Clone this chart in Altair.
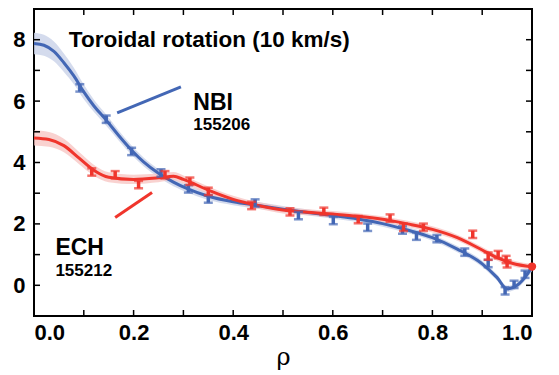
import altair as alt
import pandas as pd

# Measured points (NBI, shot 155206)
nbi_rho = [0.092, 0.145, 0.196, 0.255, 0.31, 0.35, 0.444, 0.531, 0.601, 0.67, 0.74, 0.768, 0.809, 0.865, 0.912, 0.946, 0.964, 0.986]
nbi_v   = [6.43, 5.41, 4.36, 3.66, 3.14, 2.81, 2.68, 2.27, 2.11, 1.89, 1.80, 1.60, 1.52, 1.08, 0.71, -0.18, 0.03, 0.36]

# Measured points (ECH, shot 155212)
ech_rho = [0.116, 0.163, 0.21, 0.263, 0.313, 0.35, 0.437, 0.514, 0.582, 0.651, 0.715, 0.742, 0.782, 0.881, 0.912, 0.932, 0.948, 0.95]
ech_v   = [3.69, 3.60, 3.28, 3.60, 3.39, 3.06, 2.60, 2.39, 2.41, 2.14, 2.19, 1.89, 1.89, 1.66, 0.95, 1.00, 0.84, 0.70]

# Fitted profiles
nbi_fit_rho = [0.0, 0.02, 0.04, 0.06, 0.08, 0.10, 0.12, 0.145, 0.17, 0.196, 0.22, 0.25, 0.28, 0.31, 0.35, 0.40, 0.45, 0.50, 0.55, 0.60, 0.65, 0.70, 0.75, 0.80, 0.85, 0.90, 0.93, 0.95, 0.97, 0.99, 1.0]
nbi_fit_v   = [7.88, 7.82, 7.62, 7.25, 6.82, 6.3, 5.85, 5.38, 4.88, 4.4, 4.02, 3.65, 3.36, 3.13, 2.9, 2.72, 2.6, 2.48, 2.37, 2.27, 2.16, 2.01, 1.8, 1.55, 1.18, 0.7, 0.25, -0.12, 0.0, 0.35, 0.6]
nbi_err     = [0.35, 0.34, 0.32, 0.3, 0.27, 0.24, 0.2, 0.18, 0.16, 0.15, 0.14, 0.13, 0.13, 0.12, 0.12, 0.11, 0.11, 0.1, 0.1, 0.1, 0.1, 0.1, 0.1, 0.1, 0.1, 0.1, 0.1, 0.1, 0.1, 0.12, 0.14]

ech_fit_rho = [0.0, 0.03, 0.06, 0.09, 0.12, 0.15, 0.2, 0.25, 0.28, 0.3, 0.35, 0.40, 0.45, 0.50, 0.55, 0.60, 0.65, 0.70, 0.75, 0.80, 0.85, 0.90, 0.93, 0.96, 1.0]
ech_fit_v   = [4.8, 4.75, 4.55, 4.15, 3.75, 3.52, 3.45, 3.5, 3.55, 3.45, 3.1, 2.8, 2.6, 2.45, 2.38, 2.32, 2.25, 2.15, 2.0, 1.82, 1.55, 1.15, 0.9, 0.72, 0.6]
ech_err     = [0.25, 0.24, 0.22, 0.2, 0.18, 0.16, 0.15, 0.14, 0.14, 0.13, 0.12, 0.12, 0.11, 0.11, 0.1, 0.1, 0.1, 0.1, 0.1, 0.1, 0.1, 0.1, 0.1, 0.1, 0.1]

# Edge point
edge_rho = [1.0]
edge_v = [0.61]

# Annotation leader lines (data coordinates)
lead_rho  = [0.167, 0.295, 0.163, 0.237]
lead_v    = [5.62, 6.46, 2.21, 3.02]
lead_grp  = ["NBI", "NBI", "ECH", "ECH"]

# Annotation texts
text_rho = [0.07, 0.32, 0.32, 0.043, 0.043]
text_v   = [7.99, 5.95, 5.22, 1.2, 0.45]
text_t   = ["Toroidal rotation (10 km/s)", "NBI", "155206", "ECH", "155212"]
text_s   = [22.5, 23, 17, 23, 17]

x_label_vals = [0.0, 0.2, 0.4, 0.6, 0.8, 1.0]
y_label_vals = [0, 2, 4, 6, 8]
x_tick_vals = [0.0, 0.1, 0.2, 0.3, 0.4, 0.5, 0.6, 0.7, 0.8, 0.9, 1.0]
y_tick_vals = [0, 1, 2, 3, 4, 5, 6, 7, 8]

BLUE = "#4367b5"
RED = "#f0352c"
BLUE_BAND = "#cdd5ea"
RED_BAND = "#f7c3c0"

W, H = 498, 307
FONT = "Liberation Sans"

xs = alt.Scale(domain=[0, 1], nice=False, zero=False)
ys = alt.Scale(domain=[-1, 9], nice=False, zero=False)

AX = alt.Axis(values=x_label_vals, format=".1f", domain=False, ticks=False, grid=False,
              labelFont=FONT, labelFontSize=22, labelFontWeight="bold", labelColor="black", labelPadding=6,
              titleFont="DejaVu Serif", titleFontSize=24, titleFontWeight="normal", titleColor="black", titlePadding=2)
AY = alt.Axis(values=y_label_vals, domain=False, ticks=False, grid=False,
              labelFont=FONT, labelFontSize=22, labelFontWeight="bold", labelColor="black", labelPadding=9)


def X(field="rho:Q"):
    return alt.X(field, scale=xs, axis=AX, title="ρ")


def Y(field="v:Q"):
    return alt.Y(field, scale=ys, axis=AY, title=None)


fit_nbi = pd.DataFrame({"rho": nbi_fit_rho, "v": nbi_fit_v,
                        "lo": [a - b for a, b in zip(nbi_fit_v, nbi_err)], "hi": [a + b for a, b in zip(nbi_fit_v, nbi_err)]})
fit_ech = pd.DataFrame({"rho": ech_fit_rho, "v": ech_fit_v,
                        "lo": [a - b for a, b in zip(ech_fit_v, ech_err)], "hi": [a + b for a, b in zip(ech_fit_v, ech_err)]})
pts_nbi = pd.DataFrame({"rho": nbi_rho, "v": nbi_v, "lo": [v - 0.12 for v in nbi_v], "hi": [v + 0.12 for v in nbi_v]})
pts_ech = pd.DataFrame({"rho": ech_rho, "v": ech_v, "lo": [v - 0.12 for v in ech_v], "hi": [v + 0.12 for v in ech_v]})

band_nbi = alt.Chart(fit_nbi).mark_area(color=BLUE_BAND, opacity=0.85, interpolate="monotone").encode(x=X(), y=Y("lo:Q"), y2="hi:Q")
band_ech = alt.Chart(fit_ech).mark_area(color=RED_BAND, opacity=0.75, interpolate="monotone").encode(x=X(), y=Y("lo:Q"), y2="hi:Q")

line_nbi = alt.Chart(fit_nbi).mark_line(color=BLUE, strokeWidth=3, interpolate="monotone").encode(x=X(), y=Y())
line_ech = alt.Chart(fit_ech).mark_line(color=RED, strokeWidth=3, interpolate="monotone").encode(x=X(), y=Y())


def errbars(df, color):
    bar = alt.Chart(df).mark_rule(color=color, strokeWidth=3.5).encode(x=X(), y=Y("lo:Q"), y2="hi:Q")
    caps_lo = alt.Chart(df).mark_tick(color=color, thickness=2.5, size=9, orient="horizontal").encode(x=X(), y=Y("lo:Q"))
    caps_hi = alt.Chart(df).mark_tick(color=color, thickness=2.5, size=9, orient="horizontal").encode(x=X(), y=Y("hi:Q"))
    return bar + caps_lo + caps_hi


edge = alt.Chart(pd.DataFrame({"rho": edge_rho, "v": edge_v})).mark_point(
    filled=True, color=RED, size=70, opacity=1).encode(x=X(), y=Y())

leads = alt.Chart(pd.DataFrame({"rho": lead_rho, "v": lead_v, "g": lead_grp})).mark_line(strokeWidth=3).encode(
    x=X(), y=Y(), detail="g:N",
    color=alt.Color("g:N", scale=alt.Scale(domain=["NBI", "ECH"], range=[BLUE, RED]), legend=None))

texts = alt.Chart(pd.DataFrame({"rho": text_rho, "v": text_v, "t": text_t, "s": text_s})).mark_text(
    align="left", baseline="middle", font=FONT, fontWeight="bold", color="black").encode(
    x=X(), y=Y(), text="t:N", size=alt.Size("s:Q", scale=None, legend=None))

# inward ticks on all four sides
xt = pd.DataFrame({"rho": x_tick_vals})
yt = pd.DataFrame({"v": y_tick_vals})
tick_b = alt.Chart(xt).mark_rule(color="black", strokeWidth=1.5).encode(x=X(), y=alt.value(H), y2=alt.value(H - 6))
tick_t = alt.Chart(xt).mark_rule(color="black", strokeWidth=1.5).encode(x=X(), y=alt.value(0), y2=alt.value(6))
tick_l = alt.Chart(yt).mark_rule(color="black", strokeWidth=1.5).encode(y=Y(), x=alt.value(0), x2=alt.value(6))
tick_r = alt.Chart(yt).mark_rule(color="black", strokeWidth=1.5).encode(y=Y(), x=alt.value(W), x2=alt.value(W - 6))

chart = alt.layer(
    band_nbi, band_ech, line_nbi, line_ech,
    errbars(pts_nbi, BLUE), errbars(pts_ech, RED), edge, leads, texts,
    tick_b, tick_t, tick_l, tick_r,
).properties(
    width=W, height=H,
    autosize=alt.AutoSizeParams(type="none"),
    padding={"left": 34, "top": 9, "right": 27, "bottom": 59},
    background="white",
).configure_view(stroke="black", strokeWidth=2)

chart.save("out.html", embed_options={"renderer": "svg", "actions": False})
